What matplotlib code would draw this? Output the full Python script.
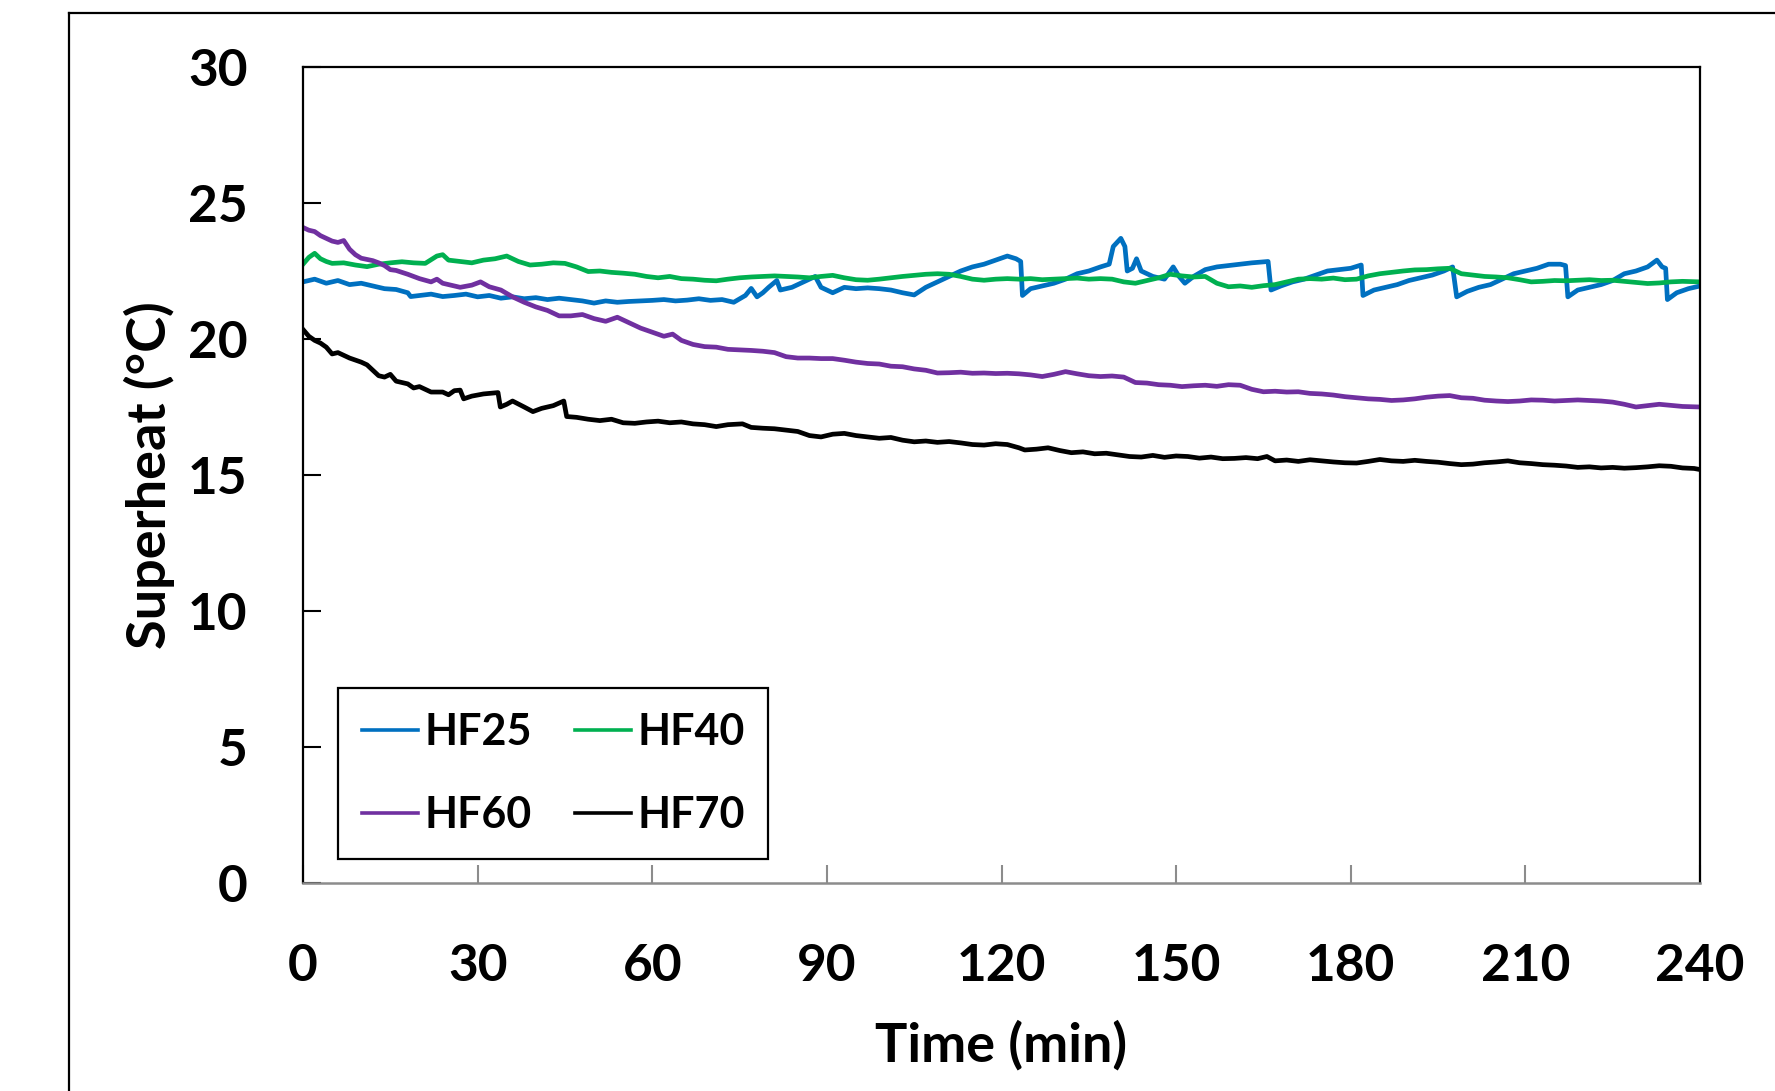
import matplotlib
matplotlib.use("Agg")
import matplotlib.pyplot as plt
from matplotlib.lines import Line2D

# values (time in min, superheat in degC)
t_hf25 = [0, 2, 4, 6, 8, 10, 12, 14, 16, 18, 18.5, 20, 22, 24, 26, 28, 30, 32, 34, 36,
          38, 40, 42, 44, 46, 48, 50, 52, 54, 56, 58, 60, 62, 64, 66, 68, 70, 72, 74, 76,
          77, 78, 79, 80, 81.4, 82, 84, 86, 88, 89, 91, 93, 95, 97, 99, 101, 103, 105, 107, 109,
          111, 113, 115, 117, 119, 121, 122.5, 123.3, 123.6, 125, 127, 129, 131, 133, 135, 137,
          138.5, 139.2, 140.5, 141.2, 141.6, 142.5, 143.2, 144, 146, 148, 149.5, 150.5, 151.5,
          153, 155, 157, 159, 161, 163, 165.8, 166.3, 168, 170, 172, 174, 176, 178, 180,
          181.8, 182.1, 184, 186, 188, 190, 192, 194, 196, 197.5, 198.2, 200, 202, 204, 206,
          208, 210, 212, 214, 216, 216.9, 217.3, 219, 221, 223, 225, 227, 229, 231, 232.6,
          233.5, 234.1, 234.4, 236, 238, 240]
v_hf25 = [22.1, 22.2, 22.05, 22.15, 22.0, 22.05, 21.95, 21.85, 21.82, 21.7, 21.56, 21.6, 21.65, 21.56, 21.6, 21.65, 21.55, 21.6, 21.5, 21.55,
          21.48, 21.52, 21.45, 21.5, 21.45, 21.4, 21.32, 21.4, 21.35, 21.38, 21.4, 21.42, 21.45, 21.4, 21.43, 21.48, 21.42, 21.45, 21.35, 21.6,
          21.86, 21.55, 21.7, 21.9, 22.15, 21.8, 21.9, 22.1, 22.3, 21.9, 21.7, 21.9, 21.85, 21.88, 21.85, 21.8, 21.7, 21.62, 21.9, 22.1,
          22.3, 22.5, 22.65, 22.75, 22.9, 23.05, 22.95, 22.85, 21.6, 21.85, 21.95, 22.05, 22.2, 22.4, 22.5, 22.65,
          22.75, 23.4, 23.7, 23.4, 22.5, 22.6, 22.95, 22.5, 22.3, 22.2, 22.65, 22.3, 22.05,
          22.3, 22.55, 22.65, 22.7, 22.75, 22.8, 22.85, 21.8, 21.95, 22.1, 22.2, 22.35, 22.5, 22.55, 22.6,
          22.72, 21.6, 21.8, 21.9, 22.0, 22.15, 22.25, 22.35, 22.5, 22.65, 21.55, 21.75, 21.9, 22.0, 22.2,
          22.4, 22.5, 22.6, 22.75, 22.75, 22.7, 21.55, 21.8, 21.9, 22.0, 22.15, 22.4, 22.5, 22.65, 22.9,
          22.65, 22.6, 21.45, 21.7, 21.85, 21.95]

t_hf40 = [0, 1, 2, 3, 4, 5, 7, 9, 11, 13, 15, 17, 19, 21, 23, 24, 25, 27, 29, 31,
          33, 35, 37, 39, 41, 43, 45, 47, 49, 51, 53, 55, 57, 59, 61, 63, 65, 67, 69, 71,
          73, 75, 77, 79, 81, 83, 85, 87, 89, 91, 93, 95, 97, 99, 101, 103, 105, 107, 109, 111,
          113, 115, 117, 119, 121, 123, 125, 127, 129, 131, 133, 135, 137, 139, 141, 143, 145, 147, 149, 151,
          153, 155, 157, 159, 161, 163, 165, 167, 169, 171, 173, 175, 177, 179, 181, 183, 185, 187, 189, 191,
          193, 195, 197, 199, 201, 203, 205, 207, 209, 211, 213, 215, 217, 219, 221, 223, 225, 227, 229, 231,
          233, 235, 237, 240]
v_hf40 = [22.75, 23.0, 23.15, 22.95, 22.85, 22.78, 22.8, 22.72, 22.66, 22.75, 22.8, 22.84, 22.8, 22.78, 23.05, 23.1, 22.9, 22.85, 22.8, 22.9,
          22.95, 23.05, 22.85, 22.72, 22.75, 22.8, 22.78, 22.65, 22.48, 22.5, 22.45, 22.42, 22.38, 22.3, 22.25, 22.3, 22.22, 22.2, 22.16, 22.14,
          22.2, 22.25, 22.28, 22.3, 22.32, 22.3, 22.28, 22.25, 22.3, 22.34, 22.25, 22.18, 22.16, 22.2, 22.25, 22.3, 22.34, 22.38, 22.4, 22.38,
          22.3, 22.2, 22.16, 22.2, 22.22, 22.2, 22.22, 22.18, 22.2, 22.22, 22.24, 22.2, 22.22, 22.2, 22.1, 22.05, 22.15, 22.25, 22.38, 22.32,
          22.28, 22.3, 22.05, 21.92, 21.95, 21.9, 21.96, 22.0, 22.1, 22.2, 22.22, 22.2, 22.24, 22.18, 22.2, 22.32, 22.4, 22.45, 22.5, 22.54,
          22.55, 22.58, 22.6, 22.4, 22.35, 22.3, 22.28, 22.25, 22.18, 22.1, 22.12, 22.15, 22.14, 22.16, 22.18, 22.15, 22.16, 22.12, 22.08, 22.04,
          22.06, 22.1, 22.12, 22.1]

t_hf60 = [0, 1, 2, 3, 4, 5, 6, 7, 8, 9, 10, 12, 13, 14, 15, 16, 18, 20, 22, 23,
          24, 26, 27, 29, 30.5, 32, 34, 36, 38, 40, 42, 44, 46, 48, 50, 52, 54, 56, 58, 60,
          62, 63.5, 65, 67, 69, 71, 73, 75, 77, 79, 81, 83, 85, 87, 89, 91, 93, 95, 97, 99,
          101, 103, 105, 107, 109, 111, 113, 115, 117, 119, 121, 123, 125, 127, 129, 131, 133, 135, 137, 139,
          141, 143, 145, 147, 149, 151, 153, 155, 157, 159, 161, 163, 165, 167, 169, 171, 173, 175, 177, 179,
          181, 183, 185, 187, 189, 191, 193, 195, 197, 199, 201, 203, 205, 207, 209, 211, 213, 215, 217, 219,
          221, 223, 225, 227, 229, 231, 233, 235, 237, 240]
v_hf60 = [24.1, 24.0, 23.95, 23.8, 23.7, 23.6, 23.55, 23.62, 23.3, 23.1, 22.97, 22.88, 22.8, 22.7, 22.55, 22.52, 22.38, 22.22, 22.1, 22.2,
          22.05, 21.95, 21.9, 21.98, 22.1, 21.92, 21.8, 21.55, 21.35, 21.18, 21.05, 20.85, 20.85, 20.9, 20.75, 20.65, 20.8, 20.6, 20.4, 20.25,
          20.1, 20.18, 19.95, 19.8, 19.72, 19.7, 19.62, 19.6, 19.58, 19.55, 19.5, 19.35, 19.3, 19.3, 19.28, 19.28, 19.22, 19.15, 19.1, 19.08,
          19.0, 18.98, 18.9, 18.85, 18.75, 18.76, 18.78, 18.74, 18.75, 18.73, 18.74, 18.72, 18.68, 18.62, 18.7, 18.8, 18.72, 18.65, 18.62, 18.64,
          18.6, 18.4, 18.38, 18.32, 18.3, 18.25, 18.28, 18.3, 18.26, 18.32, 18.3, 18.15, 18.06, 18.08, 18.05, 18.06, 18.0, 17.98, 17.94, 17.88,
          17.84, 17.8, 17.78, 17.74, 17.76, 17.8, 17.86, 17.9, 17.92, 17.84, 17.82, 17.75, 17.72, 17.7, 17.72, 17.76, 17.75, 17.72, 17.74, 17.76,
          17.74, 17.72, 17.68, 17.6, 17.5, 17.55, 17.6, 17.56, 17.52, 17.5]

t_hf70 = [0, 1, 2, 3, 4, 5, 6, 8, 10, 11, 12, 13, 14, 15, 16, 18, 19, 20, 22, 24,
          25, 26, 27, 27.6, 29, 31, 33.5, 33.9, 35, 36, 38, 39.5, 41, 43, 44.8, 45.3, 47, 49, 51, 53,
          55, 57, 59, 61, 63, 65, 67, 69, 71, 73, 75.5, 77, 79, 81, 83, 85, 87, 89, 91, 93,
          95, 97, 99, 101, 103, 105, 107, 109, 111, 113, 115, 117, 119, 121, 123, 124, 126, 128, 130, 132,
          134, 136, 138, 140, 142, 144, 146, 148, 150, 152, 154, 156, 158, 160, 162, 164, 165.6, 167, 169, 171,
          173, 175, 177, 179, 181, 183, 185, 187, 189, 191, 193, 195, 197, 199, 201, 203, 205, 207, 209, 211,
          213, 215, 217, 219, 221, 223, 225, 227, 229, 231, 233, 235, 237, 239, 240]
v_hf70 = [20.35, 20.1, 19.95, 19.85, 19.7, 19.45, 19.5, 19.3, 19.15, 19.05, 18.85, 18.65, 18.6, 18.7, 18.45, 18.35, 18.2, 18.25, 18.05, 18.05,
          17.95, 18.1, 18.12, 17.8, 17.9, 17.98, 18.03, 17.5, 17.6, 17.72, 17.5, 17.33, 17.45, 17.55, 17.72, 17.15, 17.12, 17.05, 17.0, 17.05,
          16.92, 16.9, 16.95, 16.98, 16.92, 16.95, 16.88, 16.85, 16.78, 16.85, 16.88, 16.75, 16.72, 16.7, 16.65, 16.6, 16.45, 16.4, 16.5, 16.53,
          16.45, 16.4, 16.35, 16.38, 16.28, 16.22, 16.25, 16.2, 16.23, 16.18, 16.12, 16.1, 16.15, 16.12, 16.0, 15.92, 15.95, 16.0, 15.9, 15.82,
          15.85, 15.78, 15.8, 15.74, 15.68, 15.66, 15.72, 15.65, 15.7, 15.68, 15.62, 15.66, 15.6, 15.61, 15.64, 15.6, 15.68, 15.52, 15.55, 15.5,
          15.56, 15.52, 15.48, 15.45, 15.44, 15.5, 15.57, 15.52, 15.5, 15.54, 15.5, 15.47, 15.42, 15.38, 15.4, 15.45, 15.48, 15.52, 15.45, 15.42,
          15.38, 15.36, 15.33, 15.28, 15.3, 15.26, 15.28, 15.25, 15.27, 15.3, 15.34, 15.32, 15.26, 15.24, 15.2]

series = [("HF25", t_hf25, v_hf25, "#0070C0"),
          ("HF40", t_hf40, v_hf40, "#00B050"),
          ("HF60", t_hf60, v_hf60, "#7030A0"),
          ("HF70", t_hf70, v_hf70, "#000000")]

x_ticks = [0, 30, 60, 90, 120, 150, 180, 210, 240]
y_ticks = [0, 5, 10, 15, 20, 25, 30]

plt.rcParams["font.family"] = ["Lato", "DejaVu Sans"]
plt.rcParams["font.weight"] = "bold"

fig = plt.figure(figsize=(17.75, 10.91), dpi=100)
ax = fig.add_axes([303 / 1775, 1 - 883 / 1091, 1397 / 1775, 816 / 1091])

lines = {}
for name, t, v, c in series:
    lines[name], = ax.plot(t, v, color=c, lw=3.4, label=name)

ax.set_xlim(0, 240)
ax.set_ylim(0, 30)
ax.set_xticks(x_ticks)
ax.set_yticks(y_ticks)

for s in ["left", "right", "top"]:
    ax.spines[s].set_color("black")
    ax.spines[s].set_linewidth(1.6)
ax.spines["bottom"].set_color("#8c8c8c")
ax.spines["bottom"].set_linewidth(1.8)

ax.tick_params(axis="y", direction="in", length=13, width=1.5, color="black",
               labelsize=37, pad=40)
ax.tick_params(axis="x", direction="in", length=13, width=1.5, color="#8c8c8c",
               labelsize=37, pad=43)
for lab in ax.get_xticklabels() + ax.get_yticklabels():
    lab.set_fontweight("bold")

ax.set_xlabel("Time (min)", fontsize=39, fontweight="bold", labelpad=22)
ax.set_ylabel("Superheat (°C)", fontsize=39, fontweight="bold", labelpad=9)

order = ["HF25", "HF60", "HF40", "HF70"]
leg = ax.legend([lines[n] for n in order], order, ncol=2, loc="lower left",
                bbox_to_anchor=(0.025, 0.03), borderaxespad=0, fancybox=False,
                edgecolor="black", framealpha=1, prop={"size": 31, "weight": "bold"},
                handlelength=1.3, handletextpad=0.15, columnspacing=1.0,
                labelspacing=1.0, borderpad=0.55)
leg.get_frame().set_linewidth(1.6)
for h in leg.get_lines():
    h.set_linewidth(2.6)

# outer frame, cut by the image edges
fig.add_artist(Line2D([69 / 1775, 69 / 1775], [0, 1 - 13 / 1091], color="black", lw=1.6,
                      transform=fig.transFigure))
fig.add_artist(Line2D([69 / 1775, 1], [1 - 13 / 1091, 1 - 13 / 1091], color="black", lw=1.6,
                      transform=fig.transFigure))

fig.savefig("out.png", dpi=100)
